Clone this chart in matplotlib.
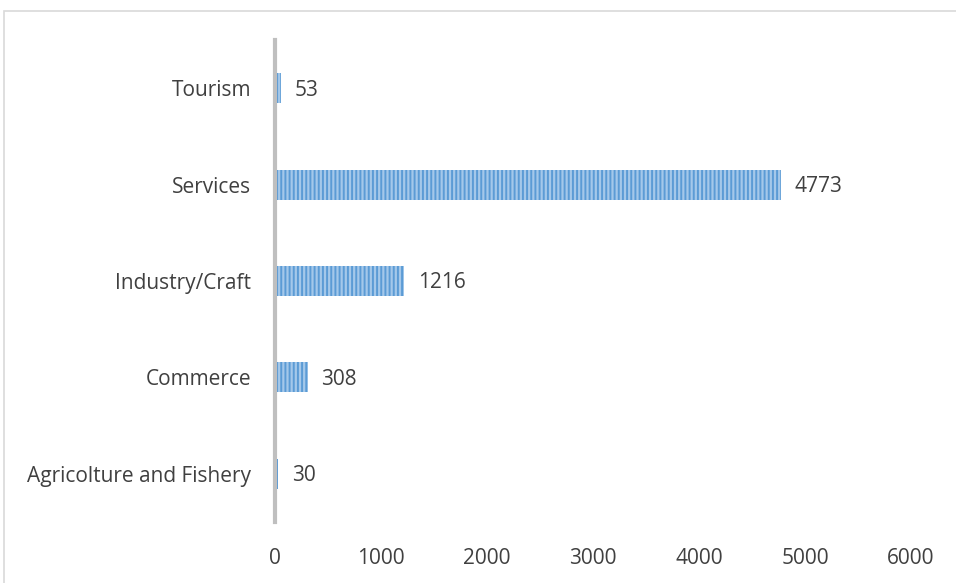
import matplotlib.pyplot as plt
from matplotlib.patches import Rectangle

categories = ['Agricolture and Fishery', 'Commerce', 'Industry/Craft', 'Services', 'Tourism']
values = [30, 308, 1216, 4773, 53]
x_ticks = [0, 1000, 2000, 3000, 4000, 5000, 6000]

plt.rcParams['font.family'] = ['Open Sans', 'DejaVu Sans']
plt.rcParams['hatch.linewidth'] = 1.4

fig = plt.figure(figsize=(9.56, 5.83), dpi=100)
ax = fig.add_axes([275 / 956, 1 - 522 / 583, 636 / 956, 482 / 583])

# outer chart border (cut off at right/bottom like the reference)
fig.patches.append(Rectangle((4 / 956, -0.1), 1.2, 1.1 - 11 / 583, transform=fig.transFigure,
                             fill=False, edgecolor='#D9D9D9', linewidth=1.2))

ypos = range(len(categories))
ax.barh(ypos, values, height=0.31, color='#A4C8EA', edgecolor='#5B9BD5', linewidth=0,
        hatch='||||', zorder=2)

for y, v in zip(ypos, values):
    ax.text(v + 130, y - 0.02, str(v), va='center', ha='left', fontsize=15, color='#404040')

ax.set_xlim(0, 6000)
ax.set_ylim(-0.5, 4.5)
ax.set_xticks(x_ticks)
ax.set_yticks(list(ypos))
ax.set_yticklabels(categories)
ax.tick_params(axis='both', length=0, labelsize=15, labelcolor='#404040')
ax.tick_params(axis='x', pad=19)
ax.tick_params(axis='y', pad=17)

for s in ['top', 'right', 'bottom']:
    ax.spines[s].set_visible(False)
ax.spines['left'].set_color('#BFBFBF')
ax.spines['left'].set_linewidth(3)
ax.spines['left'].set_zorder(3)

fig.savefig('out.png', dpi=100)
